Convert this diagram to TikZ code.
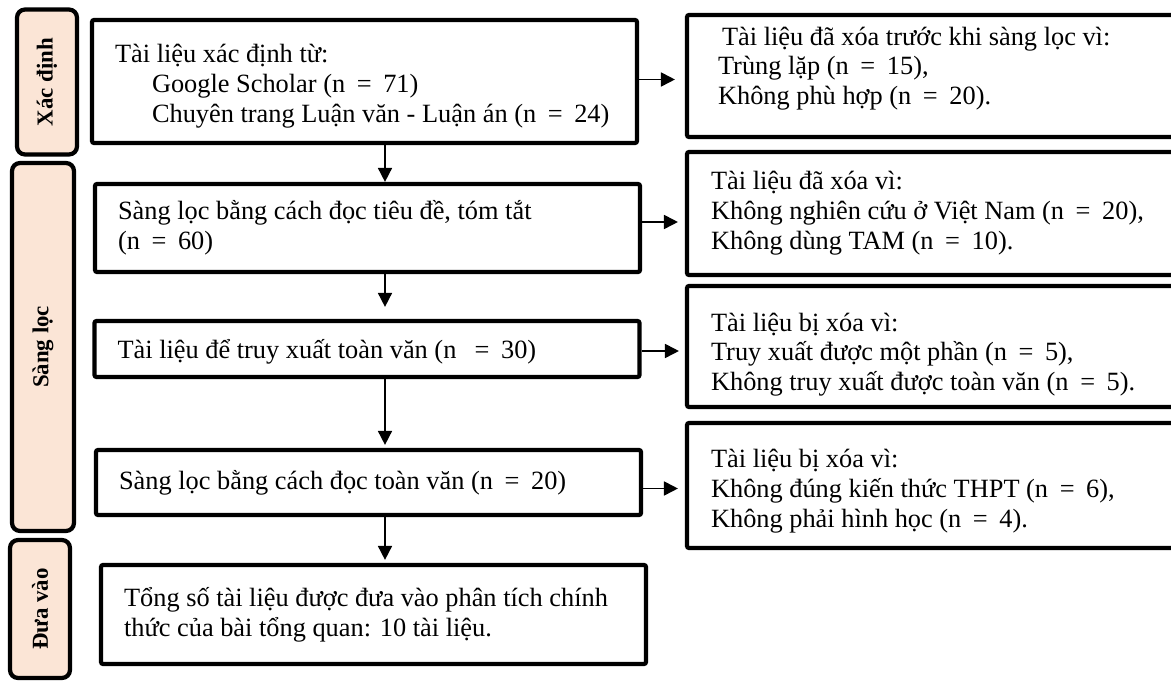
\documentclass[tikz,border=0pt]{standalone}
\usepackage{fontspec}
\setmainfont{Liberation Serif}
\usepackage{tikz}
\usetikzlibrary{arrows.meta, calc}
\definecolor{stagepeach}{HTML}{FBE5D6}
\newcommand{\eqsign}{\hspace{0.44em}=\hspace{0.44em}}

\begin{document}
\begin{tikzpicture}[x=0.02cm, y=-0.02cm,
    box/.style={draw, line width=2.4pt, rounded corners=0.04cm, align=flush left,
      font=\fontsize{15}{17}\selectfont, inner xsep=0.46cm, inner ysep=0pt,
      text width=9.98cm},
    outbox/.style={box, inner xsep=0.48cm, text width=11.3cm},
    stage/.style={draw, line width=2.4pt, rounded corners=0.16cm, fill=stagepeach,
      rotate=90, font=\fontsize{13}{15}\selectfont\bfseries},
    arr/.style={-{Triangle[length=0.28cm, width=0.28cm]}, line width=1pt}]
  \useasboundingbox (0,0) rectangle (1171,682);
  \clip (0,0) rectangle (1171,682);
  % stages
  \node[stage, minimum width=2.9cm, minimum height=1.2cm] (xacdinh) at (47,82) {Xác định};
  \node[stage, minimum width=7.36cm, minimum height=1.24cm] (sangloc) at (43,347) {Sàng lọc};
  \node[stage, minimum width=2.76cm, minimum height=1.2cm] (duavao) at (40,609) {Đưa vào};
  % main column
  \node[box, minimum height=2.46cm] (b1) at (364.5,81.5)
    {\rule{0pt}{15.6pt}Tài liệu xác định từ:\\
     \hspace*{0.74cm}Google Scholar (n\eqsign 71)\\
     \hspace*{0.74cm}Chuyên trang Luận văn - Luận án (n\eqsign 24)};
  \node[box, minimum height=1.76cm] (b2) at (367.5,228)
    {Sàng lọc bằng cách đọc tiêu đề, tóm tắt\\ (n\eqsign 60)};
  \node[box, minimum height=1.12cm] (b3) at (367,349)
    {\rule{0pt}{14pt}Tài liệu để truy xuất toàn văn (n \eqsign 30)};
  \node[box, minimum height=1.3cm] (b4) at (368.5,482.5)
    {Sàng lọc bằng cách đọc toàn văn (n\eqsign 20)};
  \node[box, minimum height=1.98cm] (b5) at (373.5,614.5)
    {Tổng số tài liệu được đưa vào phân tích chính\\ thức của bài tổng quan: 10 tài liệu.};
  % excluded records
  \node[outbox, minimum height=2.44cm, inner xsep=0.62cm, text width=11.02cm] (r1) at (993.5,76)
    {\hspace*{0.08cm}Tài liệu đã xóa trước khi sàng lọc vì:\\
     Trùng lặp (n\eqsign 15),\\
     Không phù hợp (n\eqsign 20).\rule[-0.41cm]{0pt}{0.41cm}};
  \node[outbox, minimum height=2.46cm] (r2) at (993.5,213.5)
    {Tài liệu đã xóa vì:\\
     Không nghiên cứu ở Việt Nam (n\eqsign 20),\\
     Không dùng TAM (n\eqsign 10).};
  \node[outbox, minimum height=2.42cm] (r3) at (993.5,346.5)
    {\rule{0pt}{19.6pt}Tài liệu bị xóa vì:\\
     Truy xuất được một phần (n\eqsign 5),\\
     Không truy xuất được toàn văn (n\eqsign 5).};
  \node[outbox, minimum height=2.5cm] (r4) at (993.5,485.5)
    {\rule{0pt}{17.3pt}Tài liệu bị xóa vì:\\
     Không đúng kiến thức THPT (n\eqsign 6),\\
     Không phải hình học (n\eqsign 4).};
  % arrows
  \coordinate (col) at (385,0);
  \draw[arr] (col |- b1.south) -- (col |- b2.north);
  \draw[arr, shorten >=0.24cm] (col |- b2.south) -- (col |- b3.north);
  \draw[arr, shorten >=0.06cm] (col |- b3.south) -- (col |- b4.north);
  \draw[arr, shorten >=0.06cm] (col |- b4.south) -- (col |- b5.north);
  \draw[arr, shorten >=0.2cm] ($(b1.east)+(0,-2)$) -- ($(b1.east -| r1.west)+(0,-2)$);
  \draw[arr, shorten >=0.14cm] ($(b2.east)+(0,-6)$) -- ($(b2.east -| r2.west)+(0,-6)$);
  \draw[arr, shorten >=0.12cm] ($(b3.east)+(0,2)$) -- ($(b3.east -| r3.west)+(0,2)$);
  \draw[arr, shorten >=0.14cm] ($(b4.east)+(0,6)$) -- ($(b4.east -| r4.west)+(0,6)$);
\end{tikzpicture}
\end{document}
